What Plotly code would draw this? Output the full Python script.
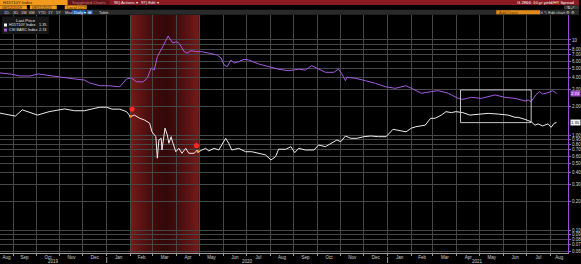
import math
import pandas as pd
import plotly.graph_objects as go

FONT = "Liberation Sans, Arial, sans-serif"

# ---------------- data ----------------
hy_dates = ["2019-08-15", "2019-08-28", "2019-09-10", "2019-09-23", "2019-10-04", "2019-10-12",
            "2019-10-25", "2019-11-01", "2019-11-20", "2019-12-03", "2019-12-10", "2019-12-23",
            "2020-01-03", "2020-01-10", "2020-01-18", "2020-01-27", "2020-02-02", "2020-02-09",
            "2020-02-17", "2020-02-23", "2020-02-28", "2020-03-03", "2020-03-07", "2020-03-14",
            "2020-03-21", "2020-03-27", "2020-04-01", "2020-04-05", "2020-04-11", "2020-04-15",
            "2020-04-20", "2020-04-27", "2020-05-04", "2020-05-14", "2020-05-24", "2020-05-29",
            "2020-06-02", "2020-06-06", "2020-06-11", "2020-06-15", "2020-06-21", "2020-06-28",
            "2020-07-04", "2020-07-17", "2020-07-30", "2020-08-12", "2020-08-25", "2020-09-07",
            "2020-09-16", "2020-09-24", "2020-10-01", "2020-10-12", "2020-10-23", "2020-10-29",
            "2020-11-02", "2020-11-07", "2020-11-09", "2020-11-20", "2020-12-03", "2020-12-16",
            "2020-12-29", "2021-01-11", "2021-01-25", "2021-02-06", "2021-02-14", "2021-02-27",
            "2021-03-08", "2021-03-21", "2021-04-03", "2021-04-09", "2021-04-20", "2021-05-03",
            "2021-05-21", "2021-06-03", "2021-06-16", "2021-06-29", "2021-07-03", "2021-07-07",
            "2021-07-13", "2021-07-18", "2021-07-22", "2021-07-29", "2021-08-04", "2021-08-09"]
hy_values = [4.50, 4.39, 4.18, 4.18, 4.39, 4.28,
             4.18, 4.08, 3.89, 3.79, 3.53, 3.30,
             3.30, 3.26, 3.22, 3.89, 3.98, 3.64,
             3.61, 3.98, 5.07, 4.83, 6.67, 8.50,
             11.0, 9.30, 9.60, 9.08, 7.53, 7.30,
             7.72, 7.53, 7.53, 7.24, 6.95, 6.47,
             5.46, 5.24, 6.16, 5.73, 5.91, 6.27,
             6.16, 5.59, 5.24, 4.92, 4.75, 4.92,
             4.83, 5.37, 5.04, 4.57, 4.57, 4.95,
             4.46, 3.73, 4.05, 3.95, 3.73, 3.50,
             3.22, 3.10, 3.30, 2.98, 2.75, 2.86,
             2.93, 2.75, 2.43, 2.37, 2.49, 2.43,
             2.64, 2.49, 2.43, 2.28, 2.34, 2.24,
             2.64, 2.86, 2.70, 2.79, 2.93, 2.74]

ust_dates = ["2019-08-15", "2019-08-28", "2019-09-04", "2019-09-13", "2019-09-25", "2019-10-03",
             "2019-10-18", "2019-11-07", "2019-11-20", "2019-12-03", "2019-12-13", "2019-12-23",
             "2020-01-01", "2020-01-08", "2020-01-18", "2020-01-27", "2020-02-01", "2020-02-06",
             "2020-02-13", "2020-02-19", "2020-02-26", "2020-02-29", "2020-03-05", "2020-03-07",
             "2020-03-09", "2020-03-12", "2020-03-13", "2020-03-17", "2020-03-20", "2020-03-22",
             "2020-03-25", "2020-03-26", "2020-03-31", "2020-04-04", "2020-04-08", "2020-04-13",
             "2020-04-17", "2020-04-24", "2020-04-28", "2020-04-30", "2020-05-04", "2020-05-09",
             "2020-05-13", "2020-05-20", "2020-05-26", "2020-05-30", "2020-06-04", "2020-06-08",
             "2020-06-12", "2020-06-21", "2020-06-30", "2020-07-08", "2020-07-17", "2020-07-26",
             "2020-08-02", "2020-08-08", "2020-08-12", "2020-08-21", "2020-08-28", "2020-09-02",
             "2020-09-07", "2020-09-16", "2020-09-27", "2020-10-03", "2020-10-12", "2020-10-20",
             "2020-10-27", "2020-11-01", "2020-11-07", "2020-11-14", "2020-11-22", "2020-12-01",
             "2020-12-10", "2020-12-20", "2020-12-30", "2021-01-08", "2021-01-19", "2021-01-25",
             "2021-02-01", "2021-02-07", "2021-02-19", "2021-02-26", "2021-03-04", "2021-03-12",
             "2021-03-18", "2021-03-25", "2021-03-31", "2021-04-09", "2021-04-18", "2021-04-29",
             "2021-05-12", "2021-05-25", "2021-06-07", "2021-06-16", "2021-06-20", "2021-06-29",
             "2021-07-07", "2021-07-12", "2021-07-16", "2021-07-22", "2021-07-29", "2021-08-02",
             "2021-08-06", "2021-08-09"]
ust_values = [1.70, 1.62, 1.58, 1.84, 1.70, 1.62,
              1.76, 1.88, 1.80, 1.80, 1.88, 1.96,
              1.96, 1.87, 1.87, 1.76, 1.56, 1.62,
              1.50, 1.44, 1.33, 1.08, 0.96, 0.57,
              0.886, 0.923, 0.695, 1.18, 1.00, 0.818,
              0.96, 0.886, 0.667, 0.724, 0.642, 0.724,
              0.642, 0.642, 0.695, 0.667, 0.695, 0.724,
              0.680, 0.724, 0.695, 0.785, 0.923, 0.818,
              0.695, 0.724, 0.667, 0.667, 0.642, 0.617,
              0.546, 0.591, 0.710, 0.707, 0.753, 0.652,
              0.724, 0.695, 0.695, 0.785, 0.753, 0.818,
              0.886, 0.849, 0.976, 0.923, 0.923, 0.960,
              0.976, 0.960, 0.960, 1.148, 1.110, 1.080,
              1.180, 1.223, 1.270, 1.50, 1.50, 1.62,
              1.76, 1.72, 1.76, 1.72, 1.62, 1.66,
              1.69, 1.66, 1.62, 1.535, 1.535, 1.46,
              1.38, 1.27, 1.31, 1.245, 1.31, 1.205,
              1.33, 1.35]

series_names = ["H15T10Y Index", "CSI BARC Index"]
last_values = ["1.35", "2.74"]

shade_start, shade_end = "2020-02-01", "2020-04-30"
flag_dates = ["2020-02-03", "2020-04-27"]
flag_values = [1.87, 0.772]
dot_dates = ["2020-02-01", "2020-04-29"]
dot_values = [1.57, 0.667]
box_dates = ["2021-04-06", "2021-07-07"]
box_values = [1.35, 2.98]

y_ticks = [0.06, 0.07, 0.08, 0.09, 0.1, 0.2, 0.3, 0.4, 0.5, 0.6, 0.7, 0.8, 0.9,
           1, 2, 3, 4, 5, 6, 7, 8, 9, 10]
y_ticktext = ["0.06", "0.07", "0.08", "0.09", "0.10", "0.20", "0.30", "0.40", "0.50", "0.60",
              "0.70", "0.80", "0.90", "1.00", "2.00", "3.00", "4.00", "5.00", "6.00", "7.00",
              "8.00", "", "10"]

x_start, x_end = "2019-08-15", "2021-08-24"
year_labels = ["2019", "2020", "2021"]
year_bounds = ["2020-01-01", "2021-01-01"]

# ---------------- layout helpers ----------------
W, H = 581, 264
ML, MR, MT, MB = 0, 11, 15, 11
PW = W - ML - MR
PT, PB = MT, H - MB
YMIN, YMAX = -1.242, 1.263
GRID = "#474747"


def fx(x):
    return (x - ML) / PW


def fy(y):
    return (PB - y) / (PB - PT)


def vy(v):
    return (math.log10(v) - YMIN) / (YMAX - YMIN)


shapes = []
annotations = []


def rect(x0, y0, x1, y1, color, layer="above", line=None):
    shapes.append(dict(type="rect", xref="paper", yref="paper",
                       x0=fx(x0), x1=fx(x1), y0=fy(y1), y1=fy(y0),
                       fillcolor=color, layer=layer,
                       line=line if line else dict(width=0)))


def text(x, y, s, size=4.5, color="#dddddd", anchor="left", bg=None):
    annotations.append(dict(xref="paper", yref="paper", x=fx(x), y=fy(y), text=s,
                            showarrow=False, xanchor=anchor, yanchor="middle",
                            font=dict(size=size, color=color, family=FONT),
                            bgcolor=bg, borderpad=0))


# red shading with gradient
s0, s1 = pd.Timestamp(shade_start), pd.Timestamp(shade_end)
N = 26
for i in range(N):
    a = s0 + (s1 - s0) * i / N
    b = s0 + (s1 - s0) * (i + 1.25) / N
    if i == N - 1:
        b = s1
    t = (i + 0.5) / N
    k = abs(2 * t - 1) ** 1.4
    r = int(52 + 70 * k)
    g = int(9 + 18 * k)
    shapes.append(dict(type="rect", xref="x", yref="paper", x0=a, x1=b, y0=0, y1=1,
                       fillcolor=f"rgb({r},{g},{g})", line=dict(width=0), layer="below"))

# highlight box
shapes.append(dict(type="rect", xref="x", yref="paper",
                   x0=box_dates[0], x1=box_dates[1],
                   y0=vy(box_values[0]), y1=vy(box_values[1]),
                   line=dict(color="#c4c4c4", width=1), fillcolor="rgba(0,0,0,0)"))

# year separators on the axis
for d in year_bounds:
    shapes.append(dict(type="line", xref="x", yref="paper", x0=d, x1=d,
                       y0=fy(257), y1=fy(263), line=dict(color="#9a9a9a", width=1)))

# ---------------- header bars ----------------
rect(0, 0, 581, 5, "#8a1b22")
rect(0, 0, 68, 5, "#f39a1c")
rect(68, 0, 110, 5, "#5e1418")
text(2, 2.6, "H15T10Y Index", 4.2, "#1a1a1a")
text(71, 2.6, "Suggested Charts", 4.2, "#c77a7a")
text(113, 2.6, "96) Actions ▾", 4.2, "#f0f0f0")
text(140, 2.6, "97) Edit ▾", 4.2, "#f0f0f0")
text(578, 2.6, "G 2866: 10-yr yield/HY Spread", 4.2, "#ffffff", anchor="right")

rect(0, 5, 581, 9.6, "#000000")
rect(0, 5.3, 27, 9.3, "#f39a1c")
rect(30, 5.3, 57, 9.3, "#f39a1c")
rect(65, 5.3, 87, 9.3, "#f39a1c")
text(1.5, 7.3, "08/12/2019", 4.0, "#1a1a1a")
text(28.5, 7.3, "-", 4.0, "#dddddd", anchor="center")
text(31.5, 7.3, "08/11/2021", 4.0, "#1a1a1a")
text(66.5, 7.3, "Local CCY", 4.0, "#1a1a1a")
rect(566, 5.3, 581, 9.3, "#3a3a3a")
text(573, 7.3, "⇅ ⤢", 4.0, "#cfcfcf", anchor="center")

rect(0, 9.7, 581, 14.7, "#2a2a2a")
for xx, lab in zip([3, 12, 20, 28, 37, 47, 55, 64],
                   ["1D", "3D", "1M", "6M", "YTD", "1Y", "5Y", "Max"]):
    text(xx, 12.2, lab, 4.0, "#d8d8d8")
rect(72, 10.2, 85.5, 14.2, "#2a62b8")
text(73, 12.2, "Daily ▾", 4.0, "#ffffff")
rect(87, 10.2, 93, 14.2, "#2a62b8")
text(90, 12.2, "⊞", 4.0, "#ffffff", anchor="center")
text(98, 12.2, "Table", 4.0, "#d8d8d8")
rect(498, 10.2, 542, 14.2, "#e08a1a")
text(500, 12.2, "Add Cross", 4.0, "#5a3a10")
text(578, 12.2, "✕ ✎ Edit chart ⚙ ⚙", 4.0, "#d8d8d8", anchor="right")

# ---------------- legend box ----------------
rect(2, 16.5, 49, 34, "#161616")
text(26, 20.5, "Last Price", 4.3, "#e6e6e6", anchor="center")
rect(4, 23.5, 7, 26.5, "#f2f2f2")
rect(4, 28.5, 7, 31.5, "#a35be0")
text(8.5, 25, series_names[0], 3.8, "#e6e6e6")
text(47.5, 25, last_values[0], 3.8, "#e6e6e6", anchor="right")
text(8.5, 30, series_names[1], 3.8, "#e6e6e6")
text(47.5, 30, last_values[1], 3.8, "#e6e6e6", anchor="right")

# ---------------- last value tags on right axis ----------------
annotations.append(dict(xref="paper", yref="paper", x=fx(572), y=vy(float(last_values[1])),
                        text=last_values[1], showarrow=False, xanchor="left", yanchor="middle",
                        font=dict(size=4.2, color="#ffffff", family=FONT),
                        bgcolor="#9b4fd6", borderpad=0))
annotations.append(dict(xref="paper", yref="paper", x=fx(572), y=vy(float(last_values[0])),
                        text=last_values[0], showarrow=False, xanchor="left", yanchor="middle",
                        font=dict(size=4.2, color="#111111", family=FONT),
                        bgcolor="#f2f2f2", borderpad=0))

# ---------------- x-axis labels ----------------
r0, r1 = pd.Timestamp(x_start), pd.Timestamp(x_end)
month_starts = pd.date_range("2019-08-01", "2021-08-01", freq="MS")
tick_pos, tick_txt = [], []
for m in month_starts:
    a = max(m, r0)
    b = min(m + pd.offsets.MonthBegin(1), r1)
    tick_pos.append(a + (b - a) / 2)
    tick_txt.append(m.strftime("%b"))

bounds = [r0] + [pd.Timestamp(d) for d in year_bounds] + [r1]
for i, lab in enumerate(year_labels):
    mid = bounds[i] + (bounds[i + 1] - bounds[i]) / 2
    annotations.append(dict(xref="x", yref="paper", x=mid, y=fy(261), text=lab,
                            showarrow=False, xanchor="center", yanchor="middle",
                            font=dict(size=4.5, color="#cfcfcf", family=FONT)))

# ---------------- traces ----------------
fig = go.Figure()
fig.add_trace(go.Scatter(x=hy_dates, y=hy_values, mode="lines", name=series_names[1],
                         line=dict(color="#a35be0", width=1)))
fig.add_trace(go.Scatter(x=ust_dates, y=ust_values, mode="lines", name=series_names[0],
                         line=dict(color="#ececec", width=1)))
fig.add_trace(go.Scatter(x=dot_dates, y=dot_values, mode="markers",
                         marker=dict(color="#ff9a1a", size=2.5)))
fig.add_trace(go.Scatter(x=flag_dates, y=flag_values, mode="markers",
                         marker=dict(color="#ff2626", size=6, symbol="pentagon")))

fig.update_layout(
    width=W, height=H,
    margin=dict(l=ML, r=MR, t=MT, b=MB, pad=0),
    paper_bgcolor="#000000", plot_bgcolor="#000000",
    showlegend=False,
    font=dict(family=FONT, color="#cccccc", size=5),
    shapes=shapes, annotations=annotations,
    xaxis=dict(type="date", range=[x_start, x_end],
               tickmode="array", tickvals=tick_pos, ticktext=tick_txt,
               ticks="", showgrid=False, zeroline=False,
               tickfont=dict(size=4.5, color="#cfcfcf", family=FONT),
               showline=True, linecolor="#9a9a9a", linewidth=1,
               minor=dict(tickmode="array", tickvals=list(month_starts), showgrid=True,
                          gridcolor=GRID, gridwidth=1, ticks="outside", ticklen=2,
                          tickcolor="#9a9a9a")),
    yaxis=dict(type="log", side="right", range=[YMIN, YMAX],
               tickmode="array", tickvals=y_ticks, ticktext=y_ticktext,
               tickfont=dict(size=4.5, color="#d6d6d6", family=FONT),
               showgrid=True, gridcolor=GRID, gridwidth=1, zeroline=False,
               showline=True, linecolor="#9b4fd6", linewidth=1,
               ticks="outside", ticklen=2, tickcolor="#9b4fd6"),
)

fig.write_html("out.html", config={"displayModeBar": False})
